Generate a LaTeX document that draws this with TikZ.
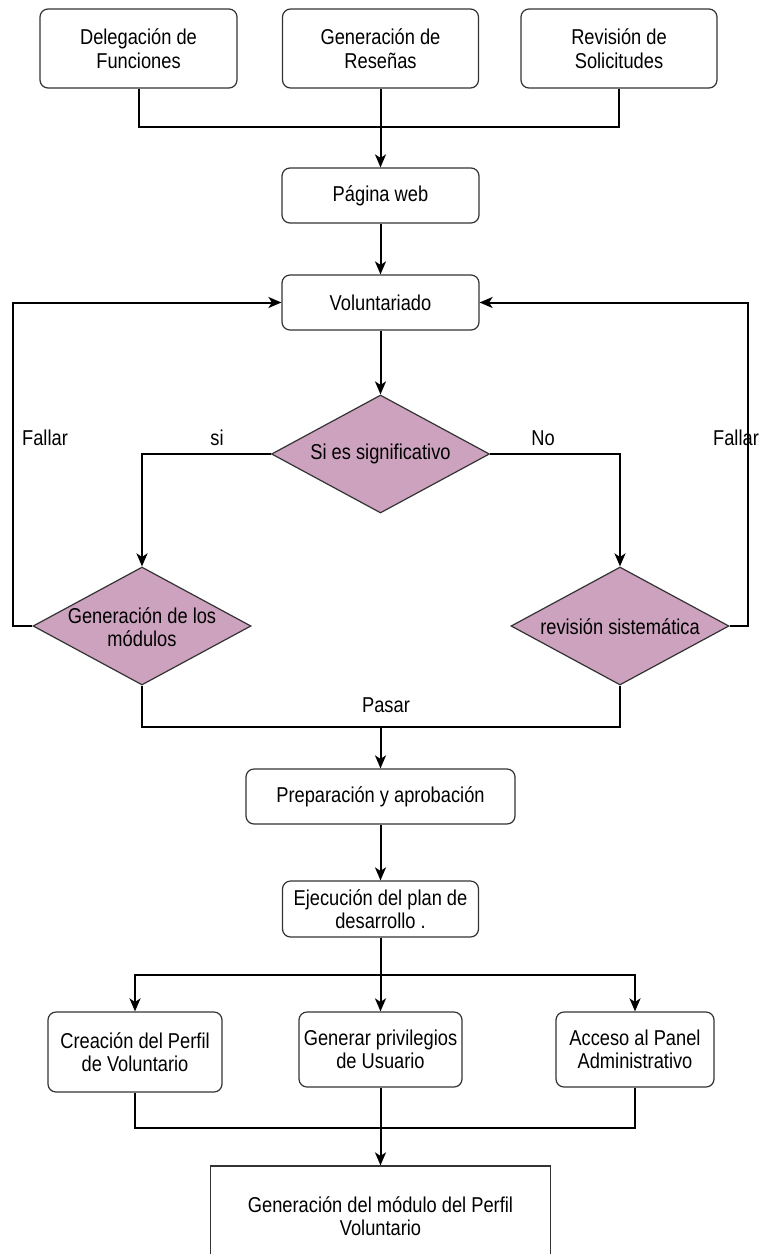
\documentclass[tikz,border=0pt]{standalone}
\usepackage{fontspec}
\setmainfont[FakeStretch=0.85]{Liberation Sans}
\usetikzlibrary{arrows.meta,shapes.geometric}
\definecolor{dpink}{HTML}{CDA2BE}
\begin{document}
\begin{tikzpicture}[x=1pt,y=-1pt,
  font=\fontsize{21.5}{23.5}\selectfont,
  box/.style={draw=black!80, line width=1.2pt, rounded corners=8pt, fill=white, align=center, inner sep=0pt},
  sqbox/.style={draw=black!80, line width=1.2pt, fill=white, align=center, inner sep=0pt},
  dia/.style={shape=diamond, draw=black!80, line width=1.2pt, fill=dpink, inner sep=0pt, minimum width=218pt, minimum height=118pt, aspect=1.85},
  conn/.style={line width=2pt, black},
  arr/.style={conn, -{Stealth[length=13pt,width=11pt,inset=3.5pt]}},
  lbl/.style={inner sep=0pt, anchor=center}
]
\useasboundingbox (0,0) rectangle (760,1254);
\fill[white] (0,0) rectangle (760,1254);

% top row
\node[box, minimum width=197pt, minimum height=79pt] (b1) at (138.5,48.5) {Delegación de\\Funciones};
\node[box, minimum width=196pt, minimum height=79pt] (b2) at (380.5,48.5) {Generación de\\Reseñas};
\node[box, minimum width=196pt, minimum height=79pt] (b3) at (619,48.5) {Revisión de\\Solicitudes};
\coordinate (bus1) at (380.5,127);

\node[box, minimum width=197pt, minimum height=55pt] (pw) at (380.5,195.5) {Página web};
\node[box, minimum width=197pt, minimum height=55pt] (vol) at (380.5,302.5) {Voluntariado};

\node[dia] (d0) at (380.5,454) {};
\node[lbl] at (d0.center) {Si es significativo};
\node[dia] (dl) at (142,626) {};
\node[lbl, align=center] at (142,627) {Generación de los\\módulos};
\node[dia] (dr) at (620,626) {};
\node[lbl] at (620,627) {revisión sistemática};

\coordinate (lx) at (13,626);
\coordinate (rx) at (748,626);
\coordinate (bus2) at (380.5,727);

\node[box, minimum width=269pt, minimum height=55pt] (prep) at (380.5,796.5) {Preparación y aprobación};
\node[box, minimum width=196pt, minimum height=56pt] (ej) at (380.5,909) {Ejecución del plan de\\desarrollo .};
\coordinate (bus3) at (380.5,975);

\node[box, minimum width=174pt, minimum height=80pt] (c1) at (135,1052) {Creación del Perfil\\de Voluntario};
\node[box, minimum width=163pt, minimum height=75pt] (c2) at (380.5,1049.5) {Generar privilegios\\de Usuario};
\node[box, minimum width=158pt, minimum height=75pt] (c3) at (635,1049.5) {Acceso al Panel\\Administrativo};
\coordinate (bus4) at (380.5,1128);

\node[sqbox, minimum width=340pt, minimum height=100pt] (fin) at (380.5,1216) {Generación del módulo del Perfil\\Voluntario};

% connectors
\draw[conn] (b1.south) |- (bus1);
\draw[conn] (b3.south) |- (bus1);
\draw[arr] (b2.south) -- (pw.north);
\draw[arr] (pw.south) -- (vol.north);
\draw[arr] (vol.south) -- (d0.north);
\draw[arr] (d0.west) -| (dl.north);
\draw[arr] (d0.east) -| (dr.north);
\draw[arr] (dl.west) -- (lx) |- (vol.west);
\draw[arr] (dr.east) -- (rx) |- (vol.east);
\draw[conn] (dl.south) |- (bus2);
\draw[conn] (dr.south) |- (bus2);
\draw[arr] (bus2) -- (prep.north);
\draw[arr] (prep.south) -- (ej.north);
\draw[conn] (ej.south) -- (bus3);
\draw[arr] (bus3) -| (c1.north);
\draw[arr] (bus3) -- (c2.north);
\draw[arr] (bus3) -| (c3.north);
\draw[conn] (c1.south) |- (bus4);
\draw[conn] (c3.south) |- (bus4);
\draw[conn] (c2.south) -- (bus4);
\draw[arr] (bus4) -- (fin.north);

% labels
\node[lbl] (lsi) at (217,438) {si};
\node[lbl] (lno) at (543,438) {No};
\node[lbl] (lf1) at (45,438) {Fallar};
\node[lbl] (lf2) at (736,438) {Fallar};
\node[lbl] (lpa) at (386,705) {Pasar};
\end{tikzpicture}
\end{document}
